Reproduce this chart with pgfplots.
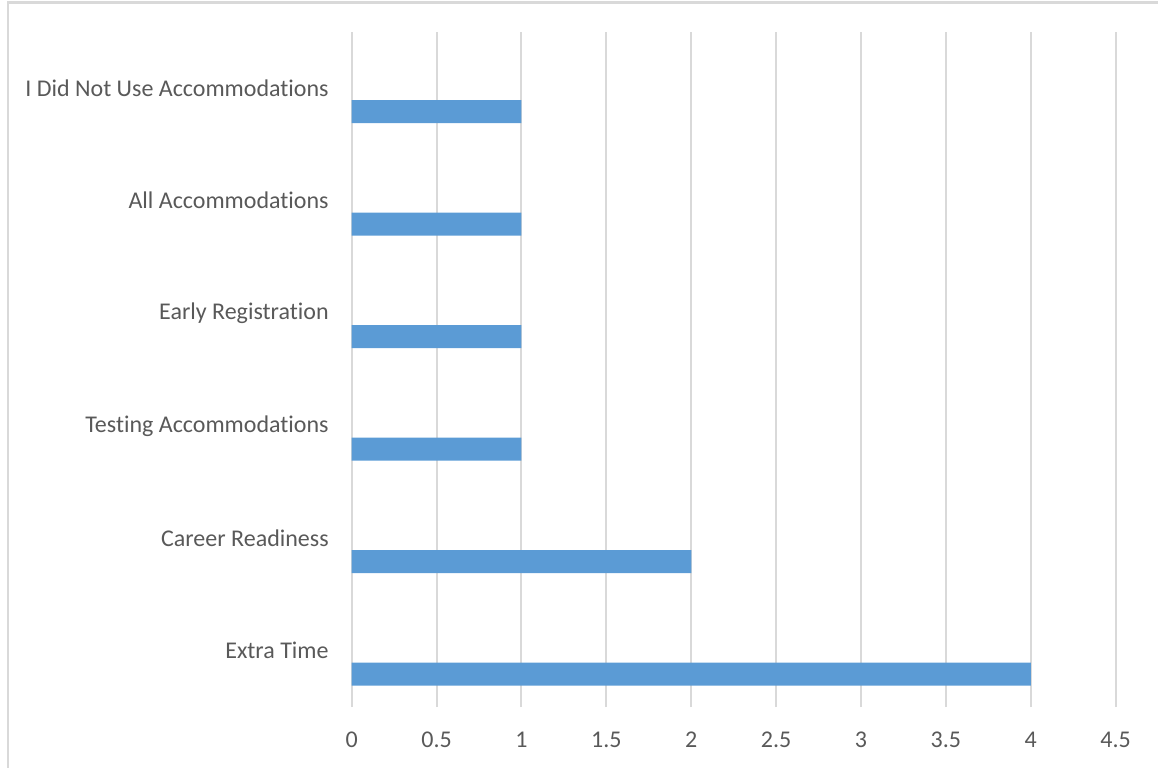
\documentclass[border=0pt]{standalone}
\usepackage{pgfplots}
\pgfplotsset{compat=1.18}
\usepackage{fontspec}
\setmainfont{Carlito}[RawFeature={-liga;-clig;-dlig}]
\definecolor{barblue}{HTML}{5B9BD5}
\definecolor{gridgray}{HTML}{D9D9D9}
\definecolor{txtgray}{HTML}{595959}
\begin{document}
\begin{tikzpicture}[x=0.5pt,y=0.5pt]
\useasboundingbox (0,0) rectangle (1158,767);
\draw[gridgray, line width=1.2pt] (8,-5) -- (8,764.5) -- (1160,764.5);
\begin{axis}[
  at={(351.7pt*0.5,60pt*0.5)}, anchor=south west,
  scale only axis,
  width=382pt, height=337.5pt,
  xmin=0, xmax=4.5, ymin=-0.5, ymax=5.5,
  xtick={0,0.5,1,1.5,2,2.5,3,3.5,4,4.5},
  xticklabels={0,0.5,1,1.5,2,2.5,3,3.5,4,4.5},
  ytick={0,1,2,3,4,5},
  yticklabels={Extra Time,Career Readiness,Testing Accommodations,Early Registration,All Accommodations,I Did Not Use Accommodations},
  xmajorgrids, major grid style={gridgray, line width=1pt},
  axis line style={draw=none},
  major tick length=0pt,
  tick label style={font=\fontsize{12}{14}\selectfont, text=txtgray},
  xticklabel style={anchor=north, yshift=-9pt},
  yticklabel style={anchor=east, xshift=-8pt},
  /pgf/number format/assume math mode=true,
  clip=false,
]
\addplot[xbar, fill=barblue, draw=none, bar width=0.204, bar shift=-0.208]
  coordinates {(4,0) (2,1) (1,2) (1,3) (1,4) (1,5)};
\end{axis}
\end{tikzpicture}
\end{document}
